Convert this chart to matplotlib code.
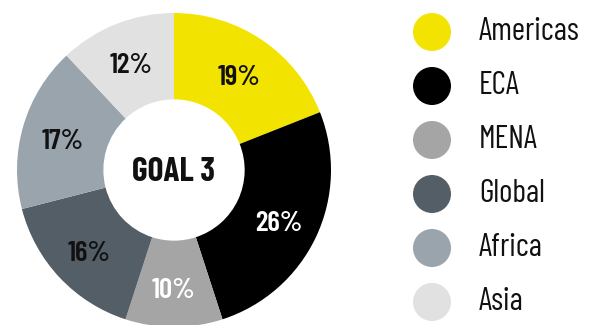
import matplotlib
matplotlib.use("Agg")
import matplotlib.pyplot as plt
import numpy as np

regions = ["Americas", "ECA", "MENA", "Global", "Africa", "Asia"]
shares = [19, 26, 10, 16, 17, 12]
colors = ["#F2E400", "#000000", "#A5A5A5", "#545E67", "#9AA4AC", "#E1E1E1"]
label_colors = ["#111111", "#FFFFFF", "#FFFFFF", "#111111", "#111111", "#111111"]
center_text = "GOAL 3"

plt.rcParams["font.family"] = ["Barlow Condensed", "DejaVu Sans"]

W, H = 595, 325
fig = plt.figure(figsize=(W / 100, H / 100), dpi=100)

# donut: centre ~ (174, 170) px from top-left, outer radius ~157 px
cx, cy, r = 174, 170, 157
ax = fig.add_axes([(cx - r) / W, (H - cy - r) / H, 2 * r / W, 2 * r / H])
wedges, texts = ax.pie(
    shares, colors=colors, startangle=90, counterclock=False, radius=1.0,
    wedgeprops=dict(width=0.55, linewidth=0),
)
ax.set_xlim(-1, 1)
ax.set_ylim(-1, 1)
ax.set_aspect("equal")
ax.axis("off")

start = 90.0
for val, col in zip(shares, label_colors):
    ang = np.deg2rad(start - val * 3.6 / 2)
    start -= val * 3.6
    rr = 0.74
    ax.text(rr * np.cos(ang), rr * np.sin(ang) - 0.025, f"{val}%", ha="center",
            va="center", fontsize=21, fontweight="semibold", color=col)

ax.text(0, -0.01, center_text, ha="center", va="center", fontsize=24,
        fontweight="bold", color="#111111")

# legend
lx0 = 410
axl = fig.add_axes([lx0 / W, (H - 329) / H, (W - lx0) / W, 324 / H])
axl.set_xlim(0, W - lx0)
axl.set_ylim(len(regions) - 0.5, -0.5)
axl.axis("off")
ys = np.arange(len(regions))
axl.scatter([22] * len(regions), ys, s=(38 * 0.72) ** 2, c=colors,
            linewidths=0)
for y, name in zip(ys, regions):
    axl.text(69, y, name, ha="left", va="center", fontsize=23, color="#111111")

fig.savefig("out.png", dpi=100, facecolor="white")
